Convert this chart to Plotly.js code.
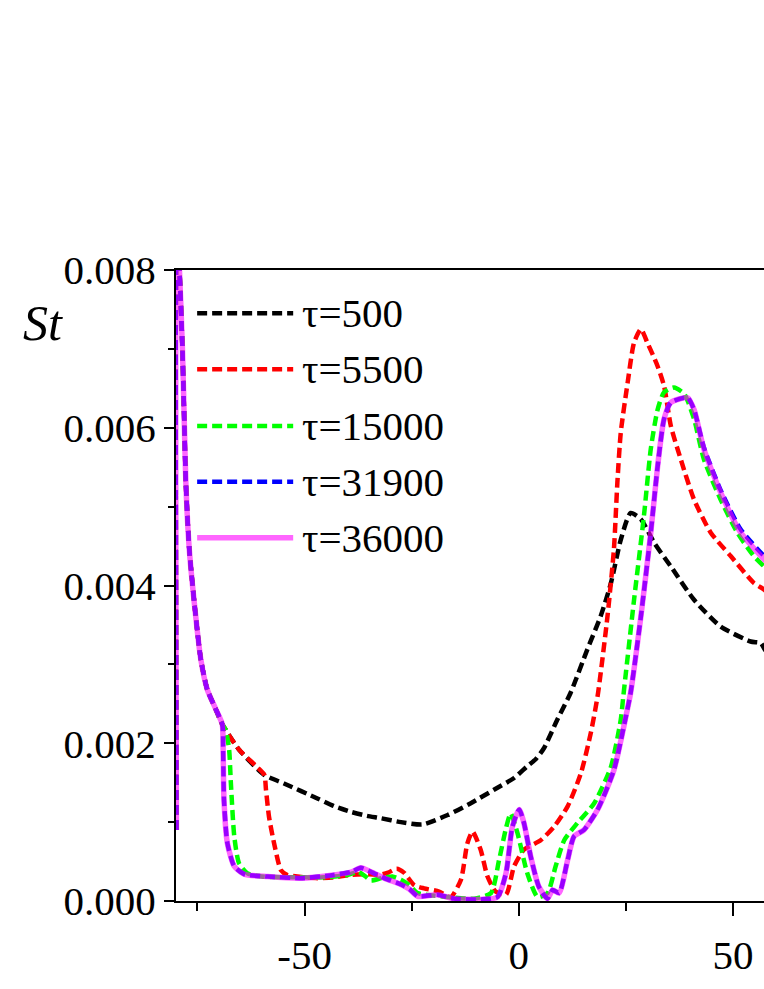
<!DOCTYPE html>
<html>
<head>
<meta charset="utf-8">
<script src="https://cdn.plot.ly/plotly-3.0.1.min.js"></script>
<style>
  html, body { margin: 0; padding: 0; overflow: hidden; background: #fff; }
</style>
</head>
<body>
<div id="plot"></div>
<script>
// St profiles at several times tau
var names = ['τ=500', 'τ=5500', 'τ=15000', 'τ=31900', 'τ=36000'];
var colors = ['#000000', '#ff0000', '#00ff00', '#0000ff', 'rgba(255,0,255,0.6)'];
var dashes = ['10px,5px', '10px,5px', '10px,5px', '10px,5px', 'solid'];
var widths = [4.5, 4.5, 4.5, 4.5, 5.5];

var xTickVals = [-50, 0, 50];
var xTickText = ['-50', '0', '50'];

var x500 = [-79.9, -79.85, -79.2, -78.5, -78.1, -77.7, -76.9, -75.4, -74.2, -72.7, -70.7, -69.2,
  -65.3, -59.4, -54.8, -47.0, -43.0, -39.2, -35.5, -32.2, -27.5, -22.5, -16.6, -11.2, -5.8, -1.1, 2.0, 4.0, 5.9, 9.0,
  12.1, 16.0, 19.1, 21.5, 23.8, 26.1, 28.5, 31.6, 35.5, 40.9, 47.1, 54.1, 56.5, 57.5, 60];
var y500 = [0.0009, 0.0085, 0.0080, 0.0070, 0.00615, 0.0053, 0.00446, 0.00361, 0.00306, 0.00268, 0.00243, 0.00224,
  0.00192, 0.0016, 0.00149, 0.0013, 0.0012, 0.00113, 0.00108, 0.00105, 0.001, 0.00097, 0.00109, 0.00124, 0.00141, 0.00156, 0.00171, 0.0018, 0.00194, 0.0023,
  0.00264, 0.00319, 0.00361, 0.00403, 0.00458, 0.00492, 0.00484, 0.00454, 0.00424, 0.00382, 0.00348, 0.00329, 0.00327, 0.00318, 0.0031];

var x5500 = [-79.9, -79.85, -79.2, -78.5, -78.1, -77.7, -76.9, -75.4, -74.2, -72.7, -70.7, -69.2,
  -65.3, -61.5, -59.4, -59.0, -58.3, -57.1, -55.5, -54.0, -50, -47, -43, -39.2, -35, -32.5, -30.5, -28.5, -26.8,
  -24.4, -22.1, -18.6, -15.9, -13.5, -12.0, -10.8, -8.9, -7.3, -5.4, -3.0, -1.1, 1.2, 5.1, 8.2, 11.4, 14.5, 16.8,
  18.4, 20.7, 22.2, 23.0, 23.8, 25.4, 26.9, 28.5, 30.0, 32.4, 33.9, 35.5, 37.8, 40.9, 44.8, 49.5, 54.9, 57.2, 60];
var y5500 = [0.0009, 0.0085, 0.0080, 0.0070, 0.00615, 0.0053, 0.00446, 0.00361, 0.00306, 0.00268, 0.00243, 0.00224,
  0.00192, 0.00172, 0.0016, 0.00141, 0.00107, 0.00073, 0.00039, 0.00033, 0.0003, 0.00029, 0.0003, 0.00033, 0.00034, 0.00033, 0.00036, 0.00041, 0.00036,
  0.0002, 0.00016, 0.00012, 0.00005, 0.00027, 0.00073, 0.00088, 0.00065, 0.00031, 0.00012, 0.00008, 0.00044, 0.00065, 0.00077, 0.00094, 0.0012, 0.00162, 0.00213,
  0.0026, 0.00361, 0.00446, 0.0053, 0.00594, 0.00657, 0.00708, 0.00725, 0.00708, 0.00678, 0.00653, 0.00602, 0.0056, 0.00509, 0.00467, 0.00437, 0.00403, 0.00395, 0.0038];

var x15000 = [-79.9, -79.85, -79.2, -78.5, -78.1, -77.7, -76.9, -75.4, -74.2, -72.7, -70.7, -69.2,
  -68.4, -67.6, -67.2, -66.4, -65.3, -63.3, -60, -55, -50, -45, -40, -37.5, -35.5, -34.5, -32, -29.5, -27.5, -25.5,
  -23.6, -20, -16.6, -10.4, -6.5, -4.6, -3.0, -1.9, -0.3, 2.0, 4.4, 6.7, 8.6, 10.6, 13.7, 17.6, 21.5, 23.8, 24.4,
  26.9, 29.2, 30.8, 32.4, 33.9, 36.2, 38.6, 40.9, 43.2, 47.1, 51.0, 54.9, 57.3, 60];
var y15000 = [0.0009, 0.0085, 0.0080, 0.0070, 0.00615, 0.0053, 0.00446, 0.00361, 0.00306, 0.00268, 0.00243, 0.00224,
  0.00217, 0.00192, 0.0015, 0.00082, 0.00048, 0.00035, 0.00031, 0.0003, 0.0003, 0.0003, 0.00033, 0.00037, 0.0003, 0.00026, 0.00029, 0.00031, 0.00027, 0.0002,
  0.0001, 0.00007, 0.00005, 0.00003, 0.0001, 0.00052, 0.00092, 0.00111, 0.00086, 0.00035, 0.00005, 0.0001, 0.00044, 0.00077, 0.00099, 0.00124, 0.0017, 0.0023, 0.0026,
  0.00382, 0.00488, 0.00573, 0.00623, 0.00645, 0.00651, 0.00643, 0.00611, 0.0056, 0.00509, 0.00467, 0.00437, 0.00424, 0.0041];

var x31900 = [-79.9, -79.85, -79.2, -78.5, -78.1, -77.7, -76.9, -75.4, -74.2, -72.7, -70.7, -69.2,
  -69.0, -68.8, -68.0, -66.4, -64.1, -58.6, -50.9, -43.2, -39, -36.9, -34.5, -31.4, -27.5, -25.5, -23.6, -19, -15.1,
  -8.9, -5.0, -3.0, -1.5, 0.1, 1.2, 2.8, 4.7, 6.7, 7.9, 9.4, 11.4, 12.9, 15.2, 18.4, 22.2, 25.0, 26.1,
  28.5, 30.8, 32.4, 33.9, 35.5, 39.4, 40.9, 43.2, 47.1, 51.8, 57.3, 60];
var y31900 = [0.0009, 0.0085, 0.0080, 0.0070, 0.00615, 0.0053, 0.00446, 0.00361, 0.00306, 0.00268, 0.00243, 0.00224,
  0.00192, 0.00128, 0.00073, 0.00044, 0.00034, 0.00031, 0.00029, 0.00033, 0.00037, 0.00042, 0.00037, 0.00029, 0.00021, 0.00015, 0.00006, 0.00008, 0.00003,
  0.00002, 0.00005, 0.00035, 0.00094, 0.00116, 0.00099, 0.00056, 0.00018, 0.00003, 0.00014, 0.0001, 0.00052, 0.00082, 0.0009, 0.00116, 0.00166, 0.00234, 0.00264,
  0.00361, 0.00467, 0.00551, 0.00611, 0.00632, 0.00638, 0.00623, 0.00575, 0.00521, 0.00471, 0.00437, 0.00424];

var x36000 = [-79.9, -79.85, -79.2, -78.5, -78.1, -77.7, -76.9, -75.4, -74.2, -72.7, -70.7, -69.2,
  -69.0, -68.8, -68.0, -66.4, -64.1, -58.6, -50.9, -43.2, -39, -36.9, -34.5, -31.4, -27.5, -25.5, -23.6, -19, -15.1,
  -8.9, -5.0, -3.0, -1.5, 0.1, 1.2, 2.8, 4.7, 6.7, 7.9, 9.4, 11.4, 12.9, 15.2, 18.4, 22.2, 25.0, 26.1,
  28.5, 30.8, 32.4, 33.9, 35.5, 39.4, 40.9, 43.2, 47.1, 51.8, 57.3, 60];
var y36000 = [0.0009, 0.0085, 0.0080, 0.0070, 0.00615, 0.0053, 0.00446, 0.00361, 0.00306, 0.00268, 0.00243, 0.00224,
  0.00192, 0.00128, 0.00073, 0.00044, 0.00034, 0.00031, 0.00029, 0.00033, 0.00037, 0.00042, 0.00037, 0.00029, 0.00021, 0.00015, 0.00006, 0.00008, 0.00003,
  0.00002, 0.00005, 0.00035, 0.00094, 0.00116, 0.00099, 0.00056, 0.00018, 0.00003, 0.00014, 0.0001, 0.00052, 0.00082, 0.0009, 0.00116, 0.00166, 0.00234, 0.00264,
  0.00361, 0.00467, 0.00551, 0.00611, 0.00632, 0.00638, 0.00623, 0.00573, 0.00518, 0.00467, 0.00433, 0.0042];

var xs = [x500, x5500, x15000, x31900, x36000];
var ys = [y500, y5500, y15000, y31900, y36000];

var data = [];
for (var i = 0; i < names.length; i++) {
  data.push({
    x: xs[i], y: ys[i], name: names[i], type: 'scatter', mode: 'lines',
    line: { color: colors[i], width: widths[i], dash: dashes[i], shape: 'spline', smoothing: 0.6 },
    showlegend: false
  });
}

var serif = 'Liberation Serif, Times New Roman, serif';

// legend drawn by hand so the sample lines are as long as in the figure
var legendY = [0.9314, 0.8426, 0.7528, 0.6645, 0.5758];
var shapes = [];
var annotations = [];
for (var j = 0; j < names.length; j++) {
  shapes.push({
    type: 'line', xref: 'paper', yref: 'paper',
    x0: 0.035, x1: 0.194, y0: legendY[j], y1: legendY[j],
    line: { color: colors[j], width: widths[j], dash: dashes[j] }
  });
  annotations.push({
    xref: 'paper', yref: 'paper', x: 0.205, y: legendY[j],
    xanchor: 'left', yanchor: 'middle', showarrow: false,
    text: names[j], font: { family: serif, size: 41, color: '#000' }
  });
}
annotations.push({
  xref: 'paper', yref: 'paper', x: -0.2194, y: 0.916,
  xanchor: 'center', yanchor: 'middle', showarrow: false,
  text: '<i>St</i>', font: { family: serif, size: 50, color: '#000' }
});

var layout = {
  width: 820, height: 989,
  margin: { l: 176, r: 40, t: 270, b: 88 },
  paper_bgcolor: '#fff', plot_bgcolor: '#fff',
  showlegend: false,
  font: { family: serif, size: 41, color: '#000' },
  xaxis: {
    range: [-80, 60.96], tickmode: 'array', tickvals: xTickVals, ticktext: xTickText,
    ticks: 'outside', ticklen: 13, tickwidth: 2, tickcolor: '#000', ticklabelstandoff: 4,
    minor: { dtick: 25, tick0: 0, ticks: 'outside', ticklen: 8, tickwidth: 2, tickcolor: '#000' },
    showline: true, linewidth: 2, linecolor: '#000', mirror: true,
    showgrid: false, zeroline: false,
    tickfont: { family: serif, size: 41, color: '#000' }
  },
  yaxis: {
    range: [0, 0.008], tick0: 0, dtick: 0.002, tickformat: '.3f',
    ticks: 'outside', ticklen: 10, tickwidth: 2, tickcolor: '#000',
    minor: { dtick: 0.001, tick0: 0, ticks: 'outside', ticklen: 6, tickwidth: 2, tickcolor: '#000' },
    showline: true, linewidth: 2, linecolor: '#000', mirror: true,
    showgrid: false, zeroline: false,
    tickfont: { family: serif, size: 41, color: '#000' }
  },
  shapes: shapes,
  annotations: annotations
};

Plotly.newPlot('plot', data, layout, { displayModeBar: false, staticPlot: true });
</script>
</body>
</html>
